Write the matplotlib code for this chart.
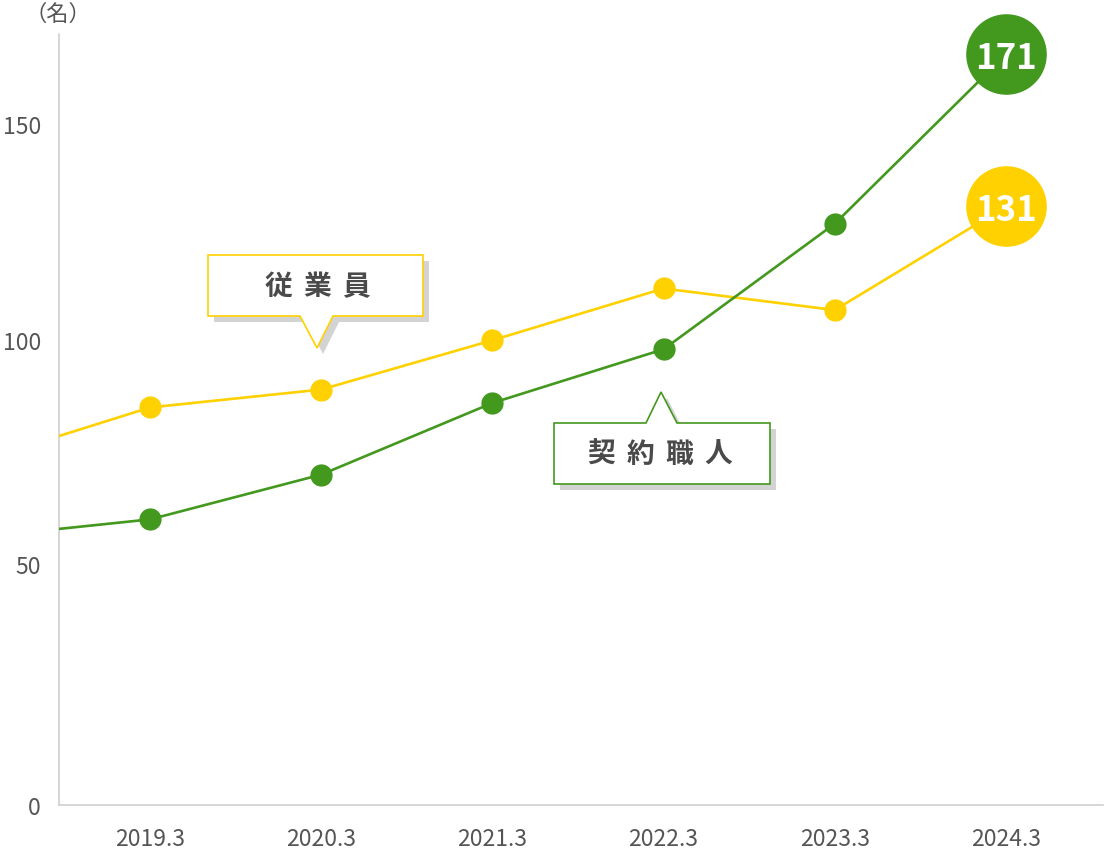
import numpy as np
import matplotlib
matplotlib.use('Agg')
from matplotlib import pyplot as plt
from matplotlib.patches import Polygon

plt.rcParams['font.family'] = ['Noto Sans CJK JP', 'DejaVu Sans']

years = ['2019.3', '2020.3', '2021.3', '2022.3', '2023.3', '2024.3']
# the leading value is the previous year, only its stub shows at the left edge
staff = [73, 85, 89, 100, 112, 107, 131]       # 従業員
craftsmen = [56, 60, 70, 86, 98, 127, 171]     # 契約職人
y_ticks = [0, 50, 100, 150]

GREEN = '#43981e'
YELLOW = '#ffd100'
TEXT = '#555555'

W, H = 1111, 854

# the y axis of the original is not evenly spaced, follow its tick spacing
scale_vals = [0, 50, 100, 150, 171, 200]
scale_offs = [0, 241, 465, 681, 751, 850]


def fwd(v):
    return np.interp(v, scale_vals, scale_offs)


def inv(o):
    return np.interp(o, scale_offs, scale_vals)


def px(x, y):
    # pixel position (top-left origin) -> figure fraction
    return (x / W, 1 - y / H)


fig = plt.figure(figsize=(W / 100, H / 100), dpi=100)
ax = fig.add_axes([59 / W, (H - 806) / H, (1103 - 59) / W, (806 - 35) / H])
ax.set_yscale('function', functions=(fwd, inv))

x = np.arange(-1, len(years))

ax.plot(x, staff, color=YELLOW, lw=1.9, zorder=3)
ax.plot(x[1:-1], staff[1:-1], 'o', color=YELLOW, ms=15, zorder=4)
ax.plot(x, craftsmen, color=GREEN, lw=1.9, zorder=3)
ax.plot(x[1:-1], craftsmen[1:-1], 'o', color=GREEN, ms=15, zorder=4)

# end bubbles with the latest value
for vals, col in [(staff, YELLOW), (craftsmen, GREEN)]:
    ax.plot(x[-1], vals[-1], 'o', color=col, ms=57, zorder=5, clip_on=False)
    ax.text(x[-1], vals[-1], str(vals[-1]), color='white', fontsize=25,
            fontweight='bold', ha='center', va='center_baseline', zorder=6)

ax.set_xlim(-0.532, 5.567)
ax.set_ylim(0, 177)
ax.set_xticks(range(len(years)))
ax.set_xticklabels(years)
ax.set_yticks(y_ticks)
ax.minorticks_off()
ax.tick_params(axis='both', length=0, colors=TEXT, labelsize=16.5)
ax.tick_params(axis='x', pad=16)
ax.tick_params(axis='y', pad=13)
for s in ['top', 'right']:
    ax.spines[s].set_visible(False)
for s in ['left', 'bottom']:
    ax.spines[s].set_color('#cccccc')
    ax.spines[s].set_linewidth(1.1)

fig.text(*px(58, 14), '（名）', fontsize=16, color=TEXT, ha='center', va='center')


def callout(points, edge, chars, cx, cy):
    shadow = [px(a + 6, b + 6) for a, b in points]
    fig.add_artist(Polygon(shadow, closed=True, facecolor='#d3d3d3',
                           edgecolor='none', zorder=7))
    fig.add_artist(Polygon([px(a, b) for a, b in points], closed=True,
                           facecolor='white', edgecolor=edge, lw=1.2, zorder=8))
    pitch = 39
    start = cx - pitch * (len(chars) - 1) / 2
    for i, ch in enumerate(chars):
        fig.text(*px(start + i * pitch, cy), ch, fontsize=20, color='#4a4a4a',
                 fontweight='bold', ha='center', va='center', zorder=9)


callout([(208, 256), (423, 256), (423, 317), (333, 317), (317, 349),
         (300, 317), (208, 317)], YELLOW, '従業員', 317, 287)
callout([(554, 424), (646, 424), (661, 393), (677, 424), (770, 424),
         (770, 485), (554, 485)], GREEN, '契約職人', 660, 455)

fig.savefig('out.png', dpi=100)
